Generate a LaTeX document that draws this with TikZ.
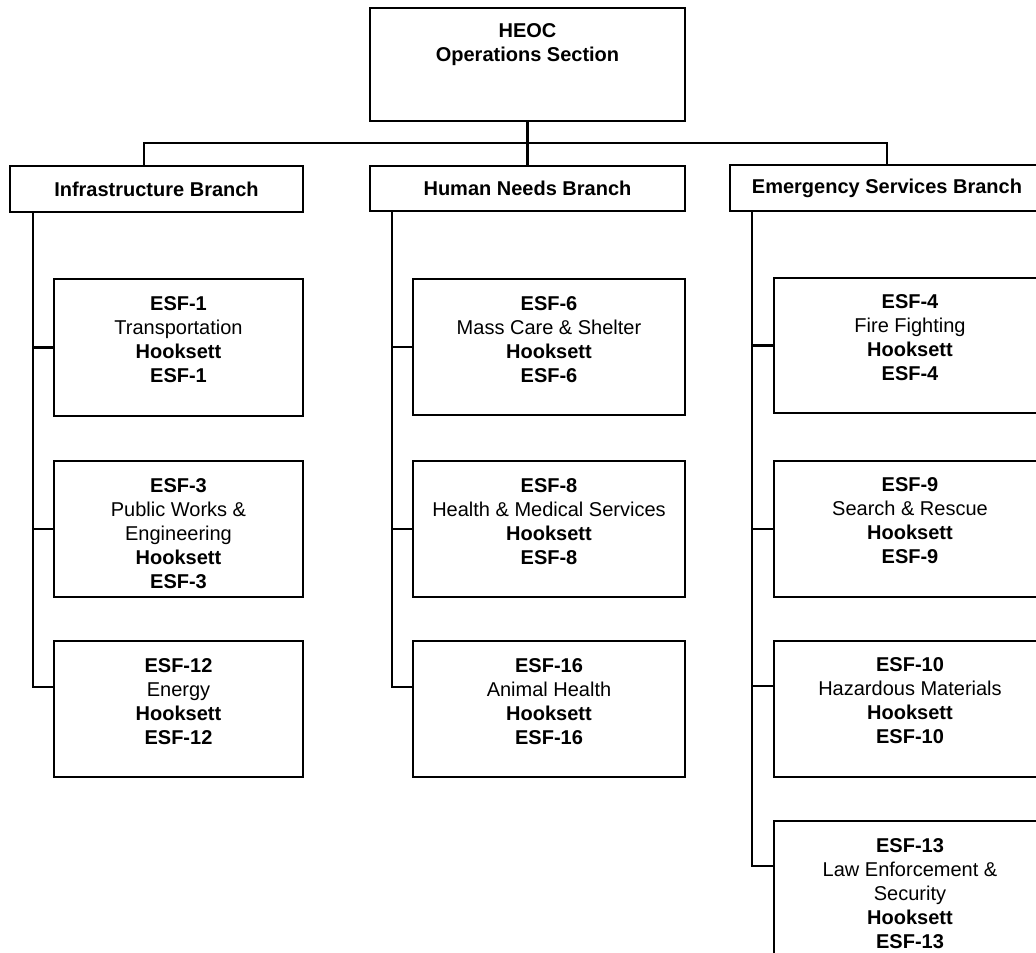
\documentclass[tikz,border=0pt]{standalone}
\usepackage{fontspec}
\setmainfont{Liberation Sans}
\newcommand\boxtxt[4]{\parbox[c][#2][t]{#1}{\centering\rule{0pt}{#3}#4\par}}
\begin{document}
\begin{tikzpicture}[x=1pt,y=-1pt,
  box/.style={draw, line width=2pt, inner sep=0pt, outer sep=0pt, anchor=north west,
    font=\fontsize{20}{24}\selectfont},
  branch/.style={box, minimum height=46pt, font=\fontsize{20}{24}\selectfont\bfseries},
  conn/.style={line width=2.2pt}]
\useasboundingbox (0,0) rectangle (1036,953);
\clip (0,0) rectangle (1036,953);

% top
\node[box] (heoc) at (370,8) {\boxtxt{315pt}{113pt}{29pt}{\textbf{HEOC}\\\textbf{Operations Section}}};

% branches
\node[branch, minimum width=293pt] (infra) at (10,166) {Infrastructure Branch};
\node[branch, minimum width=315pt, minimum height=45pt] (hn) at (370,166) {Human Needs Branch};
\node[branch, minimum width=314pt] (esb) at (730,165) {Emergency Services Branch};

% infrastructure column
\node[box] (esf1) at (54,279) {\boxtxt{249pt}{137pt}{31pt}{\textbf{ESF-1}\\Transportation\\\textbf{Hooksett}\\\textbf{ESF-1}}};
\node[box] (esf3) at (54,461) {\boxtxt{249pt}{136pt}{31pt}{\textbf{ESF-3}\\Public Works \&\\Engineering\\\textbf{Hooksett}\\\textbf{ESF-3}}};
\node[box] (esf12) at (54,641) {\boxtxt{249pt}{136pt}{31pt}{\textbf{ESF-12}\\Energy\\\textbf{Hooksett}\\\textbf{ESF-12}}};

% human needs column
\node[box] (esf6) at (413,279) {\boxtxt{272pt}{136pt}{31pt}{\textbf{ESF-6}\\Mass Care \& Shelter\\\textbf{Hooksett}\\\textbf{ESF-6}}};
\node[box] (esf8) at (413,461) {\boxtxt{272pt}{136pt}{31pt}{\textbf{ESF-8}\\Health \& Medical Services\\\textbf{Hooksett}\\\textbf{ESF-8}}};
\node[box] (esf16) at (413,641) {\boxtxt{272pt}{136pt}{31pt}{\textbf{ESF-16}\\Animal Health\\\textbf{Hooksett}\\\textbf{ESF-16}}};

% emergency services column
\node[box] (esf4) at (774,278) {\boxtxt{272pt}{135pt}{30pt}{\textbf{ESF-4}\\Fire Fighting\\\textbf{Hooksett}\\\textbf{ESF-4}}};
\node[box] (esf9) at (774,461) {\boxtxt{272pt}{136pt}{30pt}{\textbf{ESF-9}\\Search \& Rescue\\\textbf{Hooksett}\\\textbf{ESF-9}}};
\node[box] (esf10) at (774,641) {\boxtxt{272pt}{136pt}{30pt}{\textbf{ESF-10}\\Hazardous Materials\\\textbf{Hooksett}\\\textbf{ESF-10}}};
\node[box] (esf13) at (774,821) {\boxtxt{272pt}{140pt}{31pt}{\textbf{ESF-13}\\Law Enforcement \&\\Security\\\textbf{Hooksett}\\\textbf{ESF-13}}};

% top connectors
\coordinate (bj) at (527.5,143);
\draw[conn] (heoc.south) -- (hn.north);
\draw[conn] ([xshift=134pt]infra.north west) |- (bj) -| (esb.north);

% spines
\coordinate (sp1) at (33,0);
\coordinate (sp2) at (392,0);
\coordinate (sp3) at (752,0);

\draw[conn] (sp1 |- infra.south) |- ([yshift=-46pt]esf12.north west);
\draw[conn] (sp1 |- esf1.west) -- (esf1.west);
\draw[conn] (sp1 |- esf3.west) -- (esf3.west);

\draw[conn] (sp2 |- hn.south) |- ([yshift=-46pt]esf16.north west);
\draw[conn] (sp2 |- esf6.west) -- (esf6.west);
\draw[conn] (sp2 |- esf8.west) -- (esf8.west);

\draw[conn] (sp3 |- esb.south) |- ([yshift=-45pt]esf13.north west);
\draw[conn] (sp3 |- esf4.west) -- (esf4.west);
\draw[conn] (sp3 |- esf9.west) -- (esf9.west);
\draw[conn] (sp3 |- esf10.north west) ++(0,45) -- ([yshift=-45pt]esf10.north west);
\end{tikzpicture}
\end{document}
